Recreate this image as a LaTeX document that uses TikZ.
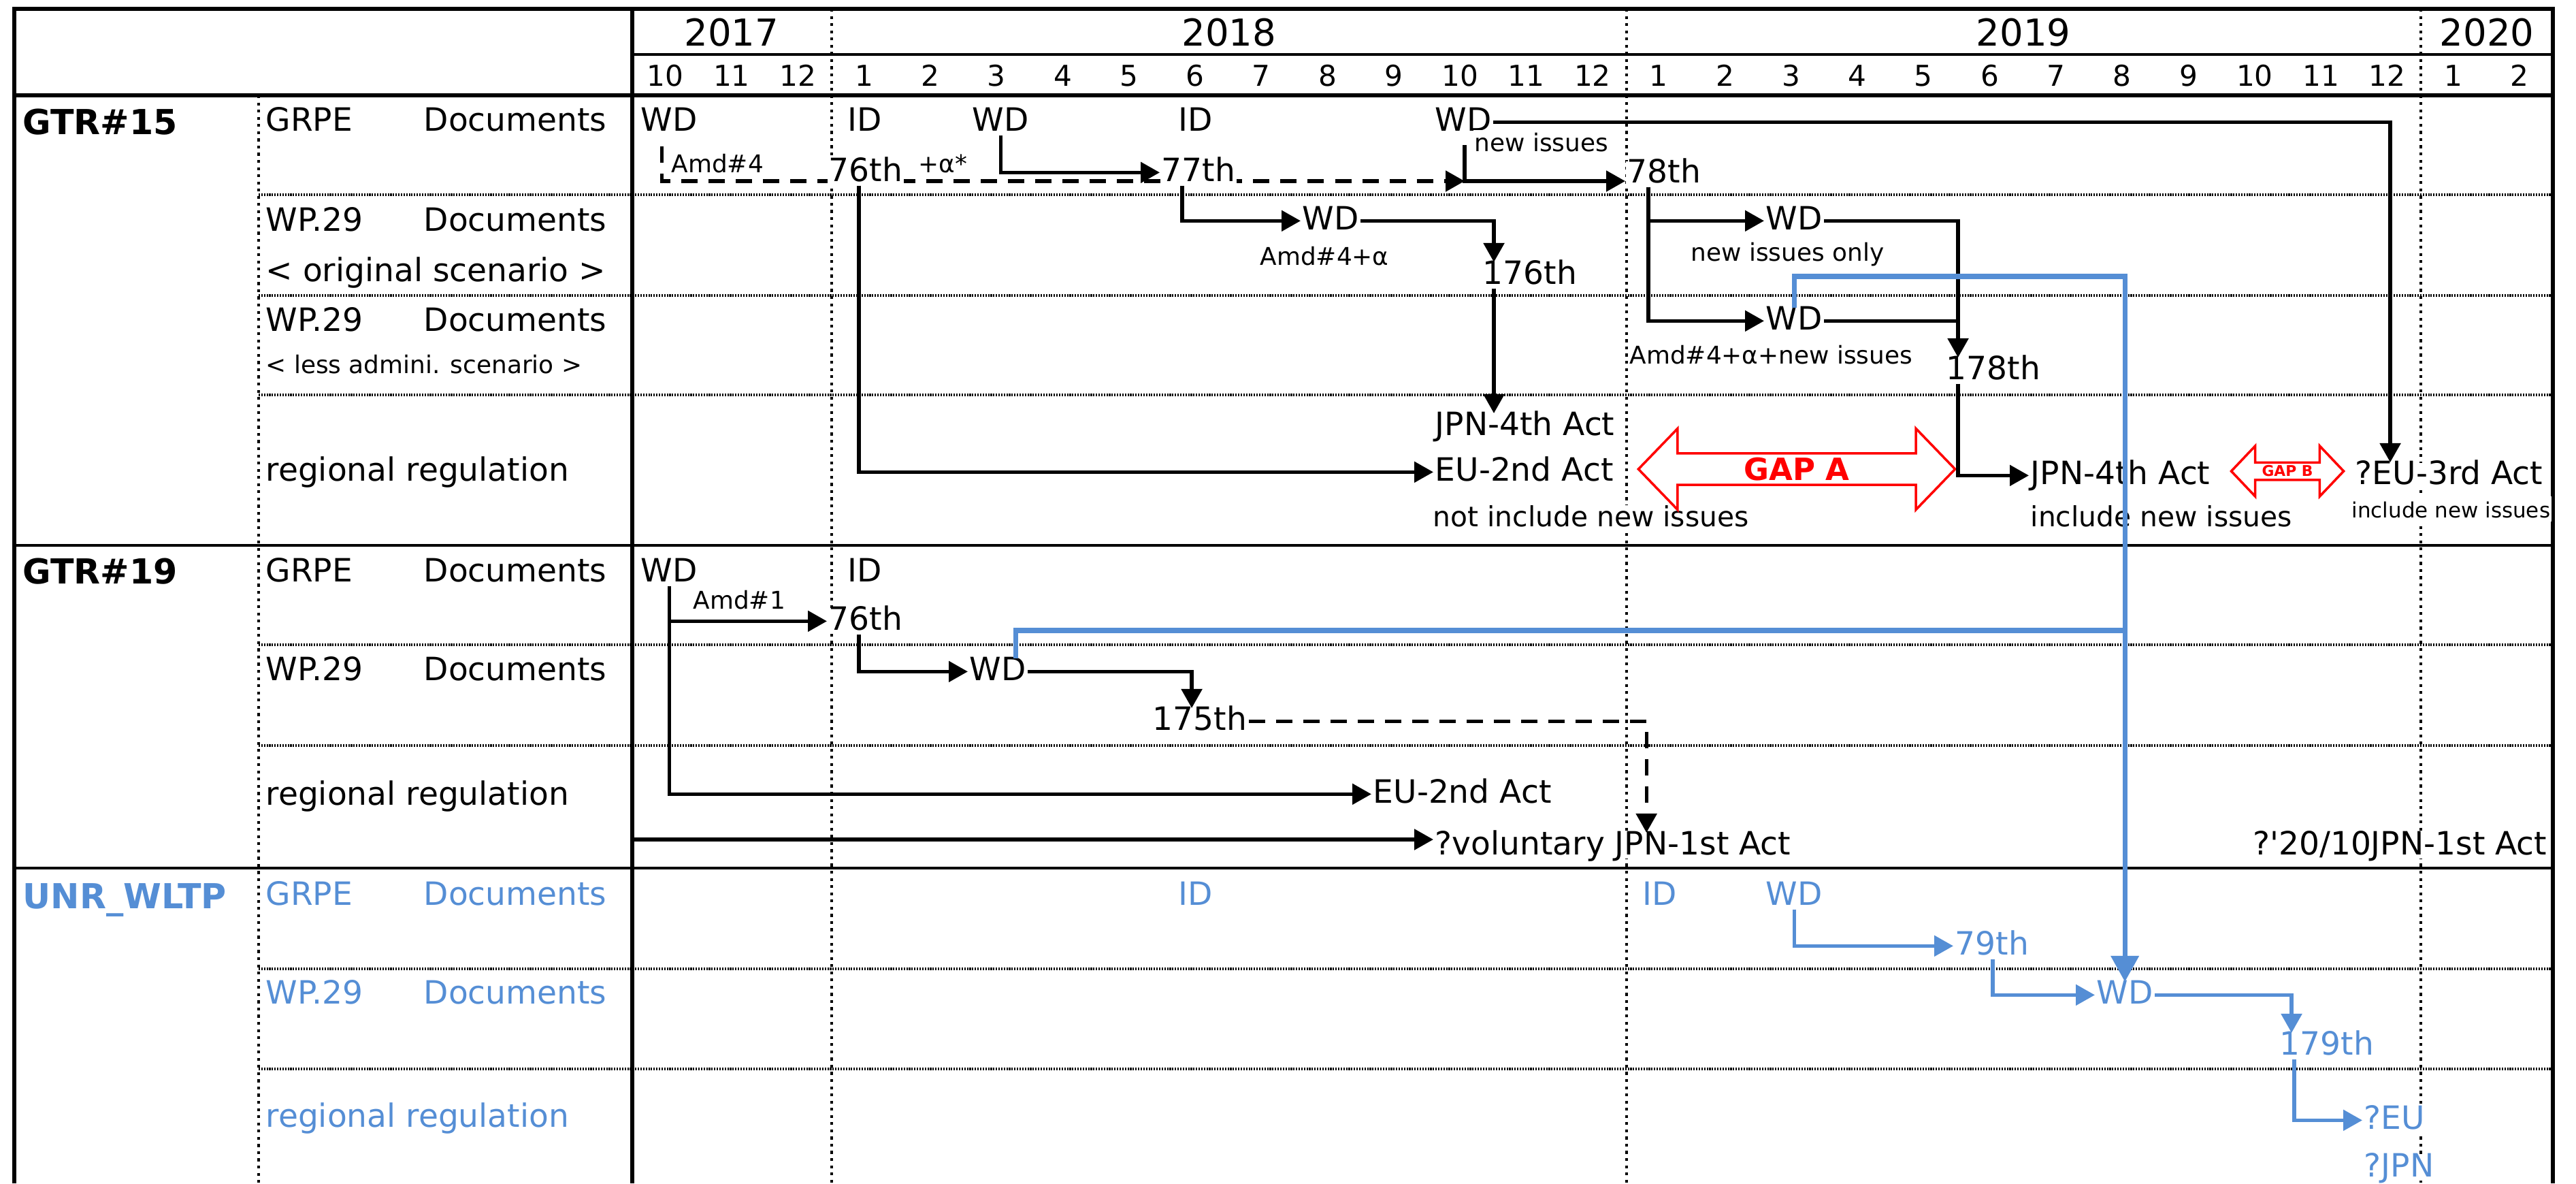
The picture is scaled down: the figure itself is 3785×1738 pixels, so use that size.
\documentclass[tikz,border=0pt]{standalone}
\usepackage{fontspec}
\setmainfont{DejaVu Sans}
\usetikzlibrary{arrows.meta, positioning, backgrounds, shapes.arrows, calc}
\definecolor{cWltp}{RGB}{85,142,213}
\definecolor{cGap}{RGB}{255,0,0}
\newcommand\fsMain{\fontsize{13.4}{16}\selectfont}
\newcommand\fsSmall{\fontsize{10.2}{12}\selectfont}
\newcommand\fsMid{\fontsize{11.6}{14}\selectfont}
\newcommand\fsTiny{\fontsize{8.8}{10}\selectfont}
\newcommand\fsYear{\fontsize{15.5}{18}\selectfont}
\newcommand\fsMonth{\fontsize{12}{14}\selectfont}
\newcommand\fsHead{\fontsize{14.4}{17}\selectfont\bfseries}
\tikzset{
  framethick/.style={line width=1.5pt},
  framethin/.style={line width=0.9pt},
  rowsep/.style={line width=0.9pt, dash pattern=on 0.6pt off 0.5pt},
  yearsep/.style={line width=0.9pt, dash pattern=on 1.2pt off 1.8pt},
  yearlbl/.style={anchor=base, font=\fsYear},
  monthlbl/.style={anchor=base, font=\fsMonth},
  grouplbl/.style={anchor=base west, inner sep=0pt, font=\fsHead},
  rowlbl/.style={anchor=base west, inner xsep=0.02cm, font=\fsMain},
  evt/.style={anchor=base west, inner xsep=0.02cm, inner ysep=0.06cm,
              text height=0.72em, text depth=0pt, fill=white, font=\fsMain},
  note/.style={evt, font=\fsSmall},
  wltp/.style={evt, text=cWltp},
  gapshape/.style={double arrow, draw=cGap, fill=white, line width=1pt,
                   inner sep=0pt, text=cGap},
  flow/.style={-{Triangle[length=0.28cm, width=0.3cm]}, line width=1.5pt},
  wire/.style={line width=1.5pt},
  dashflow/.style={flow, dash pattern=on 0.24cm off 0.16cm},
  wltpflow/.style={flow, color=cWltp},
  bluelink/.style={-{Triangle[length=0.38cm, width=0.4cm]}, line width=2pt, color=cWltp},
  bluewire/.style={line width=2pt, color=cWltp}
}

\begin{document}
\begin{tikzpicture}[x=0.01cm, y=-0.01cm]
  \useasboundingbox (0,0) rectangle (3785,1738);

  % Grid
  \begin{scope}[on background layer]
    \draw[framethick] (21,1738) -- (21,13) -- (3751,13) -- (3751,1738);
    \draw[framethick] (929,13) -- (929,1738);
    \draw[framethick] (21,140) -- (3751,140);
    \draw[framethin] (929,80) -- (3751,80);
    \foreach \y in {801,1275} \draw[framethin] (21,\y) -- (3751,\y);
    \foreach \y in {286,434,580,947,1095,1423,1570} \draw[rowsep] (380,\y) -- (3751,\y);
    \draw[yearsep] (380,140) -- (380,1738);
    \foreach \x in {1222,2390,3557} \draw[yearsep] (\x,13) -- (\x,1738);
  \end{scope}

  % Header
  \node[yearlbl] (y17) at (1075,67) {2017};
  \node[yearlbl] (y18) at (1806,67) {2018};
  \node[yearlbl] (y19) at (2973,67) {2019};
  \node[yearlbl] (y20) at (3654,67) {2020};
  \foreach \m [count=\i from 0] in {10,11,12,1,2,3,4,5,6,7,8,9,10,11,12,1,2,3,4,5,6,7,8,9,10,11,12,1,2}
    \node[monthlbl] (mon\i) at ({929+97.3*(\i+0.5)},126) {\m};

  % Row labels
  \node[grouplbl] (g15) at (33,197) {GTR\#15};
  \node[grouplbl] (g19) at (33,857) {GTR\#19};
  \node[grouplbl, text=cWltp] (gWltp) at (33,1334) {UNR\_WLTP};
  \node[rowlbl] (r15a) at (388,192) {\makebox[2.32cm][l]{GRPE}Documents};
  \node[rowlbl] (r15b) at (388,339) {\makebox[2.32cm][l]{WP.29}Documents};
  \node[rowlbl] (r15c) at (388,413) {< original scenario >};
  \node[rowlbl] (r15d) at (388,486) {\makebox[2.32cm][l]{WP.29}Documents};
  \node[rowlbl, font=\fsSmall] (r15e) at (388,548) {< less admini. scenario >};
  \node[rowlbl] (r15f) at (388,706) {regional regulation};
  \node[rowlbl] (r19a) at (388,854) {\makebox[2.32cm][l]{GRPE}Documents};
  \node[rowlbl] (r19b) at (388,999) {\makebox[2.32cm][l]{WP.29}Documents};
  \node[rowlbl] (r19c) at (388,1182) {regional regulation};
  \node[rowlbl, text=cWltp] (rwa) at (388,1329) {\makebox[2.32cm][l]{GRPE}Documents};
  \node[rowlbl, text=cWltp] (rwb) at (388,1474) {\makebox[2.32cm][l]{WP.29}Documents};
  \node[rowlbl, text=cWltp] (rwc) at (388,1655) {regional regulation};

  % GTR#15 documents
  \node[evt] (wdA) at (939,192) {WD};
  \node[evt] (idA) at (1243,192) {ID};
  \node[evt] (wdB) at (1426,192) {WD};
  \node[evt] (idB) at (1729,192) {ID};
  \node[evt] (wdC) at (2106,192) {WD};
  \node[note] (amdA) at (984,253) {Amd\#4};
  \node[evt] (n76A) at (1215,266) {76th};
  \node[note] (plusA) at (1347,253) {+α*};
  \node[evt] (n77) at (1704,266) {77th};
  \node[note] (newA) at (2164,222) {new issues};
  \node[evt] (n78) at (2388,268) {78th};
  \node[evt] (wdD) at (1911,337) {WD};
  \node[note] (amdB) at (1849,389) {Amd\#4+α};
  \node[evt] (n176) at (2176,417) {176th};
  \node[evt] (wdE) at (2592,337) {WD};
  \node[note] (onlyA) at (2482,383) {new issues only};
  \node[evt] (wdF) at (2592,484) {WD};
  \node[note] (amdC) at (2392,534) {Amd\#4+α+new issues};
  \node[evt] (n178) at (2857,557) {178th};

  % GTR#15 regional regulation
  \node[evt] (jpnA) at (2106,639) {JPN-4th Act};
  \node[evt] (euA) at (2106,706) {EU-2nd Act};
  \node[evt, font=\fsMid] (notA) at (2103,773) {not include new issues};
  \node[evt] (jpnB) at (2981,711) {JPN-4th Act};
  \node[evt, font=\fsMid] (inclA) at (2981,773) {include new issues};
  \node[evt] (euB) at (3458,711) {?EU-3rd Act};
  \node[evt, font=\fsTiny] (inclB) at (3453,760) {include new issues};
  \node[gapshape, minimum height=4.65cm, minimum width=1.19cm,
        double arrow head extend=0.295cm, double arrow tip angle=92,
        font=\fontsize{12.8}{15}\selectfont\bfseries] (gapA) at (2640,689) {GAP A};
  \node[gapshape, minimum height=1.65cm, minimum width=0.74cm,
        double arrow head extend=0.19cm, double arrow tip angle=93,
        font=\fontsize{6.2}{7}\selectfont\bfseries] (gapB) at (3361,692) {GAP B};

  % GTR#19
  \node[evt] (wdG) at (939,854) {WD};
  \node[evt] (idC) at (1243,854) {ID};
  \node[note] (amdD) at (1016,894) {Amd\#1};
  \node[evt] (n76B) at (1215,925) {76th};
  \node[evt] (wdH) at (1422,999) {WD};
  \node[evt] (n175) at (1691,1072) {175th};
  \node[evt] (euC) at (2015,1179) {EU-2nd Act};
  \node[evt] (volA) at (2106,1255) {?voluntary JPN-1st Act};
  \node[evt, anchor=base east] (jpnC) at (3745,1255) {?\textquotesingle 20/10JPN-1st Act};

  % UNR_WLTP
  \node[wltp] (idD) at (1729,1329) {ID};
  \node[wltp] (idE) at (2411,1329) {ID};
  \node[wltp] (wdI) at (2592,1329) {WD};
  \node[wltp] (n79) at (2870,1402) {79th};
  \node[wltp] (wdJ) at (3078,1474) {WD};
  \node[wltp] (n179) at (3347,1549) {179th};
  \node[wltp] (euD) at (3471,1658) {?EU};
  \node[wltp] (jpnD) at (3471,1728) {?JPN};

  % GTR#15 flows
  \coordinate (jNewTop) at (2152,213);
  \coordinate (jNew) at (2152,266);
  \begin{scope}[on background layer]
    \draw[dashflow] ([xshift=-0.11cm, yshift=-0.16cm]wdA.south) |- (jNew);
  \end{scope}
  \draw[flow] (jNewTop) -- (jNew) -- (n78.west |- jNew);
  \draw[flow] (wdB.south) |- (n77.west);
  \draw[flow] ([xshift=0.33cm]n77.south west) |- (wdD.west);
  \draw[flow] (wdD.east) -| ([xshift=0.19cm]n176.north west);
  \draw[flow] ([xshift=0.19cm]n176.south west) -- ([xshift=0.19cm]n176.south west |- jpnA.north);
  \draw[flow] ([xshift=0.47cm]n76A.south west) |- (euA.west);
  \draw[flow] (wdC.east) -| ([xshift=0.54cm]euB.north west);
  \draw[flow] ([xshift=0.34cm]n78.south west) |- (wdE.west);
  \draw[flow] ([xshift=0.34cm]n78.south west) |- (wdF.west);
  \draw[flow] (wdE.east) -| ([xshift=0.2cm]n178.north west);
  \draw[wire] (wdF.east) -- ([xshift=0.2cm]n178.north west |- wdF.east);
  \draw[flow] ([xshift=0.2cm]n178.south west) |- (jpnB.west);

  % GTR#19 flows
  \draw[flow] (wdG.south) |- (n76B.west);
  \draw[flow] (wdG.south) |- (euC.west);
  \draw[flow] ([xshift=0.47cm]n76B.south west) |- (wdH.west);
  \draw[flow] (wdH.east) -| ([xshift=0.6cm]n175.north west);
  \draw[dashflow] (n175.east) -| ([xshift=3.13cm]volA.north west);
  \coordinate (volStart) at (929,1233);
  \draw[flow] (volStart) -- (volA.west |- volStart);

  % links into UNR_WLTP
  \draw[bluelink] (wdF.north) -- ++(0,-46) -| (wdJ.north);
  \draw[bluewire] ([xshift=0.7cm]wdH.north west) -- ++(0,-41) coordinate (bTurn) -- (bTurn -| wdJ.north);

  % UNR_WLTP flows
  \draw[wltpflow] (wdI.south) |- (n79.west);
  \draw[wltpflow] ([xshift=0.58cm]n79.south west) |- (wdJ.west);
  \draw[wltpflow] (wdJ.east) -| ([xshift=0.2cm]n179.north west);
  \draw[wltpflow] ([xshift=0.24cm]n179.south west) |- (euD.west);

\end{tikzpicture}
\end{document}
